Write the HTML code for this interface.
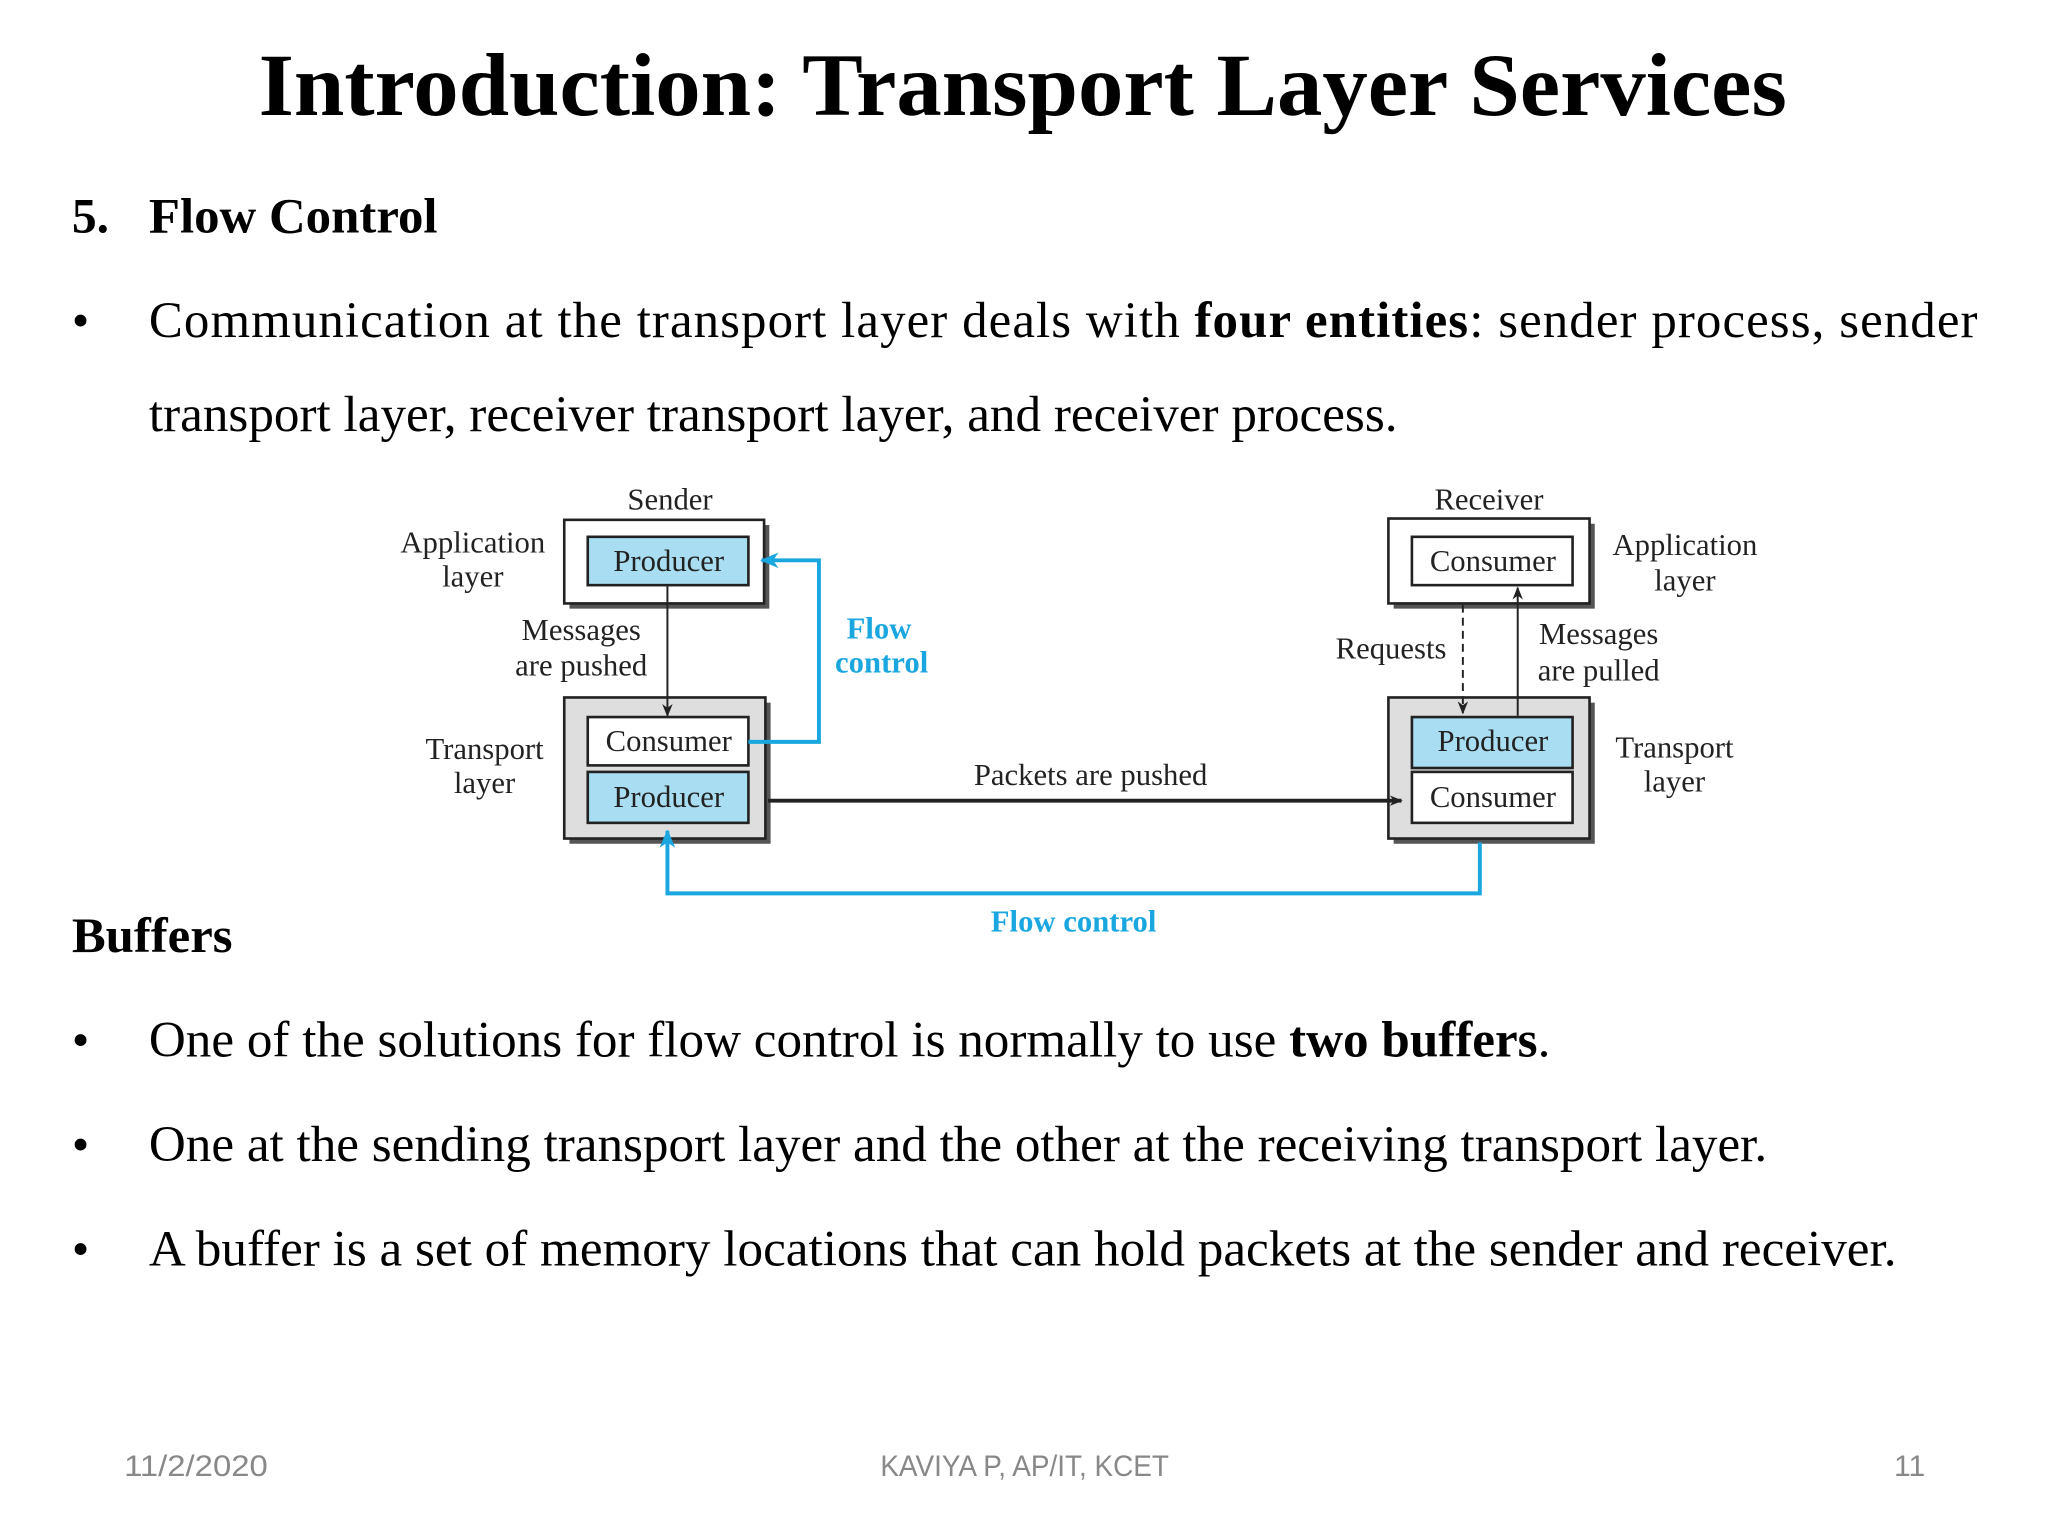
<!DOCTYPE html>
<html><head><meta charset="utf-8"><style>html,body{margin:0;padding:0;background:#fff;width:2048px;height:1536px;overflow:hidden}</style></head>
<body>
<svg width="2048" height="1536" viewBox="0 0 1568 1176" xmlns="http://www.w3.org/2000/svg">
<defs>
<marker id="ak" markerWidth="10" markerHeight="10" refX="9" refY="5" orient="auto" markerUnits="userSpaceOnUse"><path d="M0,1 L10,5 L0,9 L3,5z" fill="#222"/></marker>
<marker id="ab" markerWidth="14" markerHeight="14" refX="13" refY="7" orient="auto" markerUnits="userSpaceOnUse"><path d="M0,1 L14,7 L0,13 L4,7z" fill="#1aa7e0"/></marker>
</defs>
<g font-family="Liberation Serif, serif" fill="#000">
<text x="198" y="88" font-size="68" font-weight="bold" textLength="1170" lengthAdjust="spacingAndGlyphs">Introduction: Transport Layer Services</text>
<text x="55" y="178" font-size="38" font-weight="bold">5.</text>
<text x="114" y="178" font-size="38" font-weight="bold" textLength="221" lengthAdjust="spacingAndGlyphs">Flow Control</text>
<text x="55" y="258" font-size="38">•</text>
<text x="114" y="258" font-size="39" textLength="1400" lengthAdjust="spacing">Communication at the transport layer deals with <tspan font-weight="bold">four entities</tspan>: sender process, sender</text>
<text x="114" y="330" font-size="39" textLength="956" lengthAdjust="spacingAndGlyphs">transport layer, receiver transport layer, and receiver process.</text>
<text x="55" y="729" font-size="38" font-weight="bold" textLength="123" lengthAdjust="spacingAndGlyphs">Buffers</text>
<text x="55" y="809" font-size="38">•</text>
<text x="114" y="809" font-size="39" textLength="1073" lengthAdjust="spacingAndGlyphs">One of the solutions for flow control is normally to use <tspan font-weight="bold">two buffers</tspan>.</text>
<text x="55" y="889" font-size="38">•</text>
<text x="114" y="889" font-size="39" textLength="1239" lengthAdjust="spacingAndGlyphs">One at the sending transport layer and the other at the receiving transport layer.</text>
<text x="55" y="969" font-size="38">•</text>
<text x="114" y="969" font-size="39" textLength="1338" lengthAdjust="spacingAndGlyphs">A buffer is a set of memory locations that can hold packets at the sender and receiver.</text>
</g>
<g font-family="Liberation Sans, sans-serif" font-size="23" fill="#888">
<text x="95" y="1130" textLength="110" lengthAdjust="spacingAndGlyphs">11/2/2020</text>
<text x="674" y="1130" textLength="221" lengthAdjust="spacingAndGlyphs">KAVIYA P, AP/IT, KCET</text>
<text x="1474" y="1130" text-anchor="end">11</text>
</g>
<g stroke="#222" stroke-width="2">
<rect x="436" y="402" width="153" height="64" fill="#555" stroke="none"/>
<rect x="432" y="398" width="153" height="64" fill="#fff"/>
<rect x="450" y="411" width="123" height="37" fill="#a9def2"/>
<rect x="436" y="538" width="154" height="108" fill="#555" stroke="none"/>
<rect x="432" y="534" width="154" height="108" fill="#dedede"/>
<rect x="450" y="549" width="123" height="37" fill="#fff"/>
<rect x="450" y="591" width="123" height="39" fill="#a9def2"/>
<rect x="1067" y="401" width="154" height="65" fill="#555" stroke="none"/>
<rect x="1063" y="397" width="154" height="65" fill="#fff"/>
<rect x="1081" y="411" width="123" height="37" fill="#fff"/>
<rect x="1067" y="538" width="154" height="108" fill="#555" stroke="none"/>
<rect x="1063" y="534" width="154" height="108" fill="#dedede"/>
<rect x="1081" y="549" width="123" height="39" fill="#a9def2"/>
<rect x="1081" y="591" width="123" height="39" fill="#fff"/>
</g>
<g fill="none">
<line x1="511" y1="449" x2="511" y2="548" stroke="#222" stroke-width="1.5" marker-end="url(#ak)"/>
<line x1="1120" y1="463" x2="1120" y2="546" stroke="#222" stroke-width="1.5" stroke-dasharray="6,4" marker-end="url(#ak)"/>
<line x1="1162" y1="548" x2="1162" y2="450" stroke="#222" stroke-width="1.5" marker-end="url(#ak)"/>
<line x1="588" y1="613" x2="1073" y2="613" stroke="#222" stroke-width="3" marker-end="url(#ak)"/>
<polyline points="573,568 627,568 627,429 583,429" stroke="#1aa7e0" stroke-width="3" marker-end="url(#ab)"/>
<polyline points="1133,645 1133,684 511,684 511,636" stroke="#1aa7e0" stroke-width="3" marker-end="url(#ab)"/>
</g>
<g font-family="Liberation Serif, serif" font-size="23.5" fill="#222" text-anchor="middle">
<text x="512" y="437">Producer</text>
<text x="512" y="575">Consumer</text>
<text x="512" y="618">Producer</text>
<text x="1143" y="437">Consumer</text>
<text x="1143" y="575">Producer</text>
<text x="1143" y="618">Consumer</text>
<text x="513" y="390">Sender</text>
<text x="1140" y="390">Receiver</text>
<text x="362" y="423">Application</text>
<text x="362" y="449">layer</text>
<text x="445" y="490">Messages</text>
<text x="445" y="517">are pushed</text>
<text x="371" y="581">Transport</text>
<text x="371" y="607">layer</text>
<text x="835" y="601">Packets are pushed</text>
<text x="1065" y="504">Requests</text>
<text x="1224" y="493">Messages</text>
<text x="1224" y="521">are pulled</text>
<text x="1290" y="425">Application</text>
<text x="1290" y="452">layer</text>
<text x="1282" y="580">Transport</text>
<text x="1282" y="606">layer</text>
<g fill="#1aa7e0" font-weight="bold">
<text x="673" y="489">Flow</text>
<text x="675" y="515">control</text>
<text x="822" y="713">Flow control</text>
</g>
</g>
</svg>
</body></html>
